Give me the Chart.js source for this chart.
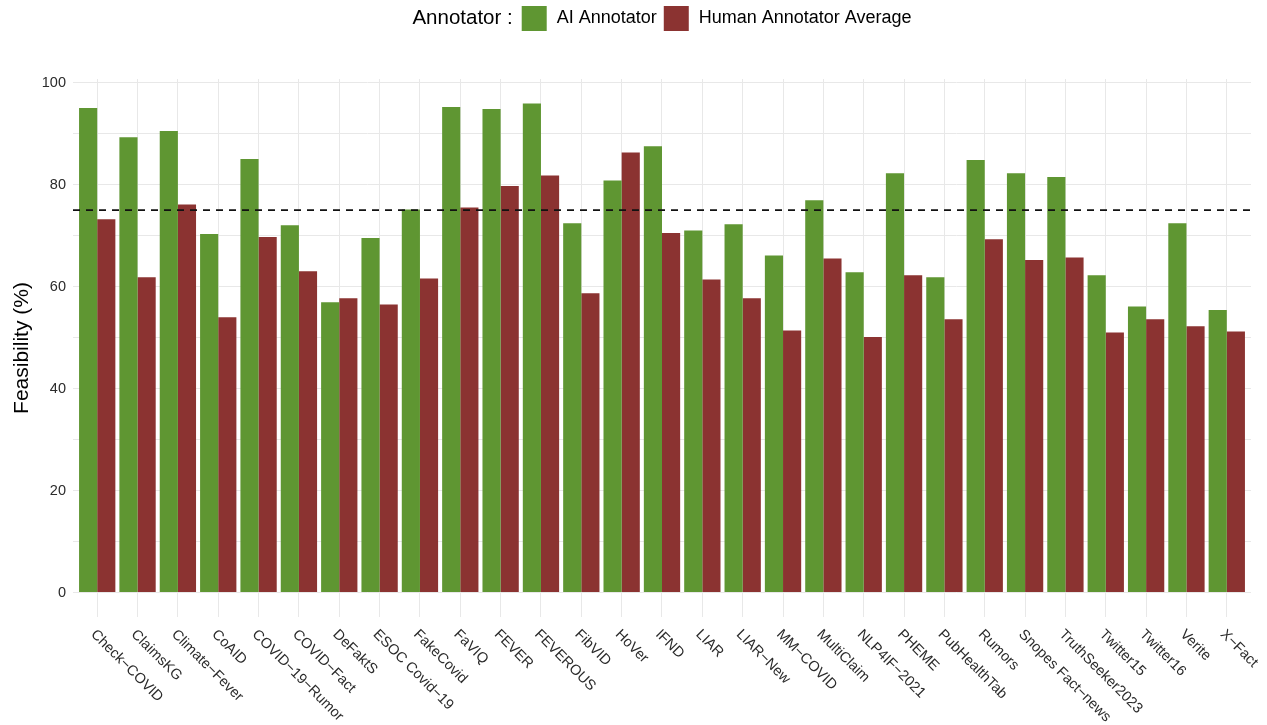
<!DOCTYPE html>
<html>
<head>
<meta charset="utf-8">
<title>Feasibility by dataset</title>
<script src="https://cdn.jsdelivr.net/npm/chart.js@4.4.0/dist/chart.umd.min.js"></script>
<style>
  html, body { margin: 0; padding: 0; background: #ffffff; }
  #wrap { width: 1267px; height: 725px; }
</style>
</head>
<body>
<div id="wrap"><canvas id="feasChart" width="1267" height="725"></canvas></div>
<script>
// Data
const categories = ['Check\u2212COVID', 'ClaimsKG', 'Climate\u2212Fever', 'CoAID', 'COVID\u221219\u2212Rumor',
    'COVID\u2212Fact', 'DeFaktS', 'ESOC Covid\u221219', 'FakeCovid', 'FaVIQ', 'FEVER', 'FEVEROUS', 'FibVID',
    'HoVer', 'IFND', 'LIAR', 'LIAR\u2212New', 'MM\u2212COVID', 'MultiClaim', 'NLP4IF\u22122021', 'PHEME',
    'PubHealthTab', 'Rumors', 'Snopes Fact\u2212news', 'TruthSeeker2023', 'Twitter15', 'Twitter16', 'Verite', 'X\u2212Fact'];
const aiAnnotator = [95.0, 89.3, 90.5, 70.3, 85.0, 72.0, 56.9, 69.5, 75.1, 95.2, 94.8, 95.9, 72.4, 80.8, 87.5,
    71.0, 72.2, 66.1, 76.9, 62.8, 82.2, 61.8, 84.8, 82.2, 81.5, 62.2, 56.1, 72.4, 55.4];
const humanAverage = [73.2, 61.8, 76.1, 54.0, 69.7, 63.0, 57.7, 56.5, 61.6, 75.5, 79.7, 81.8, 58.7, 86.3, 70.5,
    61.4, 57.7, 51.4, 65.5, 50.1, 62.2, 53.6, 69.3, 65.2, 65.7, 51.0, 53.6, 52.2, 51.2];
const seriesNames = ['AI Annotator', 'Human Annotator Average'];
const legendTitle = 'Annotator :';
const yTicks = [0, 10, 20, 30, 40, 50, 60, 70, 80, 90, 100];
const yTickLabels = ['0', '', '20', '', '40', '', '60', '', '80', '', '100'];
const threshold = 75;

const FONT = '"Liberation Sans", Arial, Helvetica, sans-serif';
const GREEN = '#5f9632';
const RED = '#8b3331';
const GRID = '#e8e8e8';
const TEXT = '#2b2b2b';

Chart.defaults.font.family = FONT;

// dashed reference line across the panel
const thresholdLine = {
    id: 'thresholdLine',
    afterDatasetsDraw(chart) {
        const { ctx, chartArea, scales } = chart;
        const y = scales.y.getPixelForValue(threshold);
        ctx.save();
        ctx.strokeStyle = '#111111';
        ctx.lineWidth = 1.7;
        ctx.setLineDash([7, 6]);
        ctx.beginPath();
        ctx.moveTo(chartArea.left, y);
        ctx.lineTo(chartArea.right, y);
        ctx.stroke();
        ctx.restore();
    }
};

// x labels rotated clockwise, starting at the tick
const slantedLabels = {
    id: 'slantedLabels',
    afterDraw(chart) {
        const { ctx, chartArea, scales } = chart;
        ctx.save();
        ctx.font = '14.5px ' + FONT;
        ctx.fillStyle = TEXT;
        ctx.textAlign = 'left';
        ctx.textBaseline = 'alphabetic';
        categories.forEach((name, i) => {
            const x = scales.x.getPixelForValue(i);
            ctx.save();
            ctx.translate(x - 7, chartArea.bottom + 18);
            ctx.rotate(Math.PI / 4);
            ctx.fillText(name, 0, 0);
            ctx.restore();
        });
        ctx.restore();
    }
};

// legend in one row with its title on the left, centred over the panel
const inlineLegend = {
    id: 'inlineLegend',
    afterDraw(chart) {
        const { ctx, chartArea } = chart;
        const box = 25, cy = 18.5;
        ctx.save();
        ctx.textBaseline = 'middle';
        ctx.textAlign = 'left';
        ctx.font = '20.5px ' + FONT;
        const titleW = ctx.measureText(legendTitle).width;
        ctx.font = '18px ' + FONT;
        const items = chart.data.datasets.map(ds => ({
            label: ds.label, color: ds.backgroundColor, w: ctx.measureText(ds.label).width
        }));
        let total = titleW;
        items.forEach((it, i) => { total += (i === 0 ? 9 : 7) + box + 10 + it.w; });
        let x = (chartArea.left + chartArea.right) / 2 - total / 2;
        ctx.fillStyle = '#000';
        ctx.font = '20.5px ' + FONT;
        ctx.fillText(legendTitle, x, cy);
        x += titleW;
        ctx.font = '18px ' + FONT;
        items.forEach((it, i) => {
            x += (i === 0 ? 9 : 7);
            ctx.fillStyle = it.color;
            ctx.fillRect(x, cy - box / 2, box, box);
            x += box + 10;
            ctx.fillStyle = '#000';
            ctx.fillText(it.label, x, cy);
            x += it.w;
        });
        ctx.restore();
    }
};

const ctx = document.getElementById('feasChart').getContext('2d');
const feasChart = new Chart(ctx, {
    type: 'bar',
    data: {
        datasets: [{
            label: seriesNames[0],
            data: aiAnnotator.map((v, i) => ({ x: i, y: v })),
            backgroundColor: GREEN,
            borderWidth: 0
        }, {
            label: seriesNames[1],
            data: humanAverage.map((v, i) => ({ x: i, y: v })),
            backgroundColor: RED,
            borderWidth: 0
        }]
    },
    options: {
        responsive: false,
        animation: false,
        categoryPercentage: 0.9,
        barPercentage: 1.0,
        layout: { padding: { top: 79, right: 16, left: 0, bottom: 0 } },
        plugins: {
            legend: { display: false },
            tooltip: { enabled: false }
        },
        scales: {
            x: {
                type: 'linear',
                min: -0.6,
                max: categories.length - 0.4,
                offset: false,
                afterBuildTicks: (scale) => { scale.ticks = categories.map((c, i) => ({ value: i })); },
                afterFit: (scale) => { scale.height = 108; },
                ticks: { display: false },
                grid: { color: GRID, lineWidth: 1, drawTicks: false, offset: false },
                border: { display: false }
            },
            y: {
                min: -4.8,
                max: 100.7,
                afterBuildTicks: (scale) => { scale.ticks = yTicks.map(v => ({ value: v })); },
                afterFit: (scale) => { scale.width = 73; },
                ticks: {
                    color: TEXT,
                    font: { size: 14.5 },
                    padding: 7,
                    callback: (value, index) => yTickLabels[index]
                },
                grid: { color: GRID, lineWidth: 1, drawTicks: false },
                border: { display: false },
                title: {
                    display: true,
                    text: 'Feasibility (%)',
                    color: '#000',
                    font: { size: 21 },
                    padding: { top: 10, bottom: 0 }
                }
            }
        }
    },
    plugins: [thresholdLine, slantedLabels, inlineLegend]
});
</script>
</body>
</html>
